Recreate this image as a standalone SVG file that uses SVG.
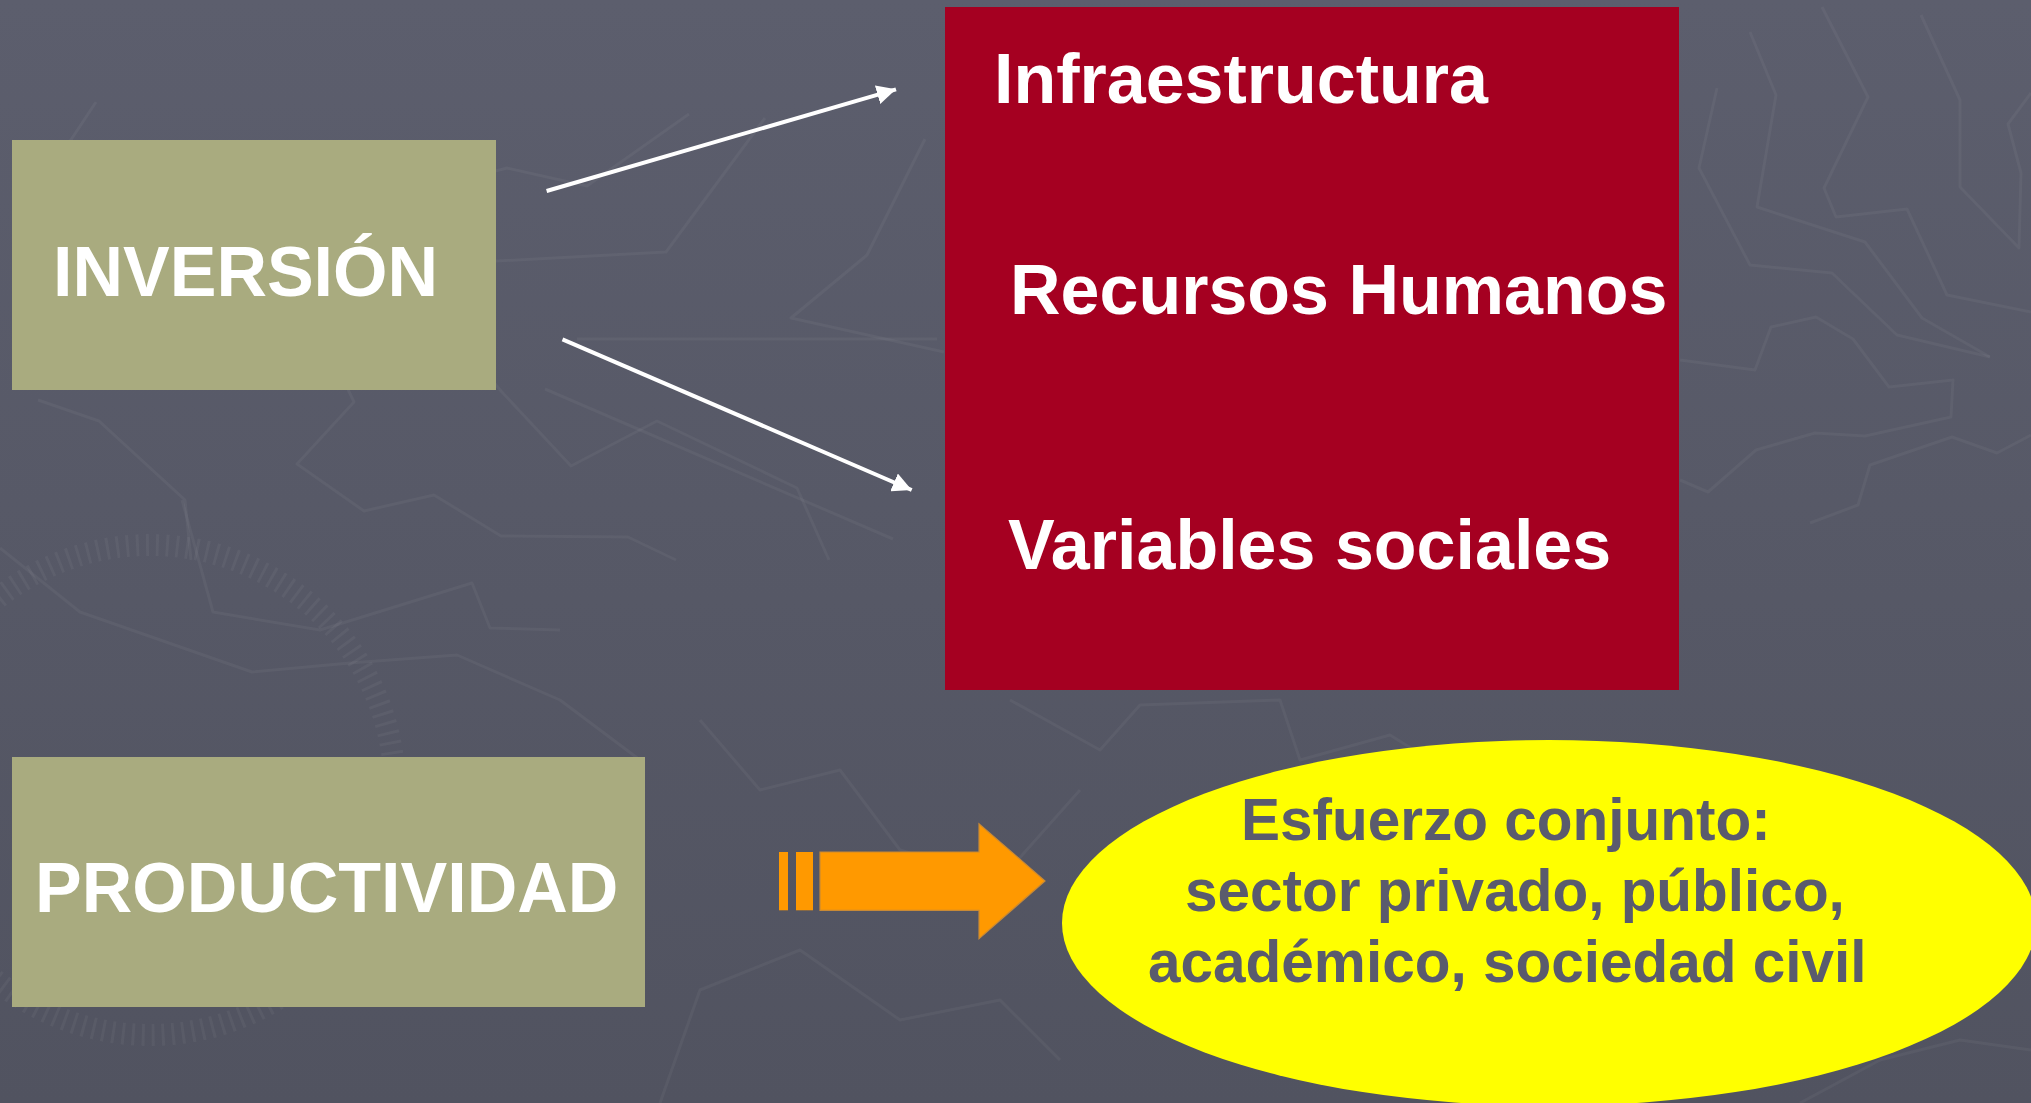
<svg xmlns="http://www.w3.org/2000/svg" width="2031" height="1103" viewBox="0 0 2031 1103">
  <defs>
    <linearGradient id="bg" x1="0" y1="0" x2="0" y2="1">
      <stop offset="0" stop-color="#5c5e6d"/>
      <stop offset="1" stop-color="#515360"/>
    </linearGradient>
    <marker id="head" viewBox="0 0 10 10" refX="10" refY="5" markerWidth="4.8" markerHeight="4.8" markerUnits="strokeWidth" orient="auto">
      <path d="M0,0 L10,5 L0,10 Z" fill="#ffffff"/>
    </marker>
    <style>
      .bgline { fill: none; stroke: #ffffff; stroke-opacity: 0.045; stroke-width: 3; stroke-linejoin: round; }
      .olive { fill: #a9ab7f; }
      .label { font-family: "Liberation Sans", Arial, sans-serif; font-weight: bold; fill: #ffffff; }
      .big { font-size: 70px; }
      .dark { font-family: "Liberation Sans", Arial, sans-serif; font-weight: bold; font-size: 58.5px; fill: #5a5b6d; }
      .conn { stroke: #ffffff; stroke-width: 4; fill: none; marker-end: url(#head); }
      .orange { fill: #ff9900; }
    </style>
  </defs>

  <rect x="0" y="0" width="2031" height="1103" fill="url(#bg)"/>

  <g id="background-lines">
    <polyline class="bgline" points="689,114 587,186 507,168 370,204 230,209 169,320 201,357 252,330 325,341 354,402 297,464 364,511 434,495 501,536 628,537 676,560"/>
    <polyline class="bgline" points="765,118 666,252 459,263 437,314 501,391 571,466 657,421 797,488 829,560"/>
    <polyline class="bgline" points="925,139 867,255 791,318 944,352"/>
    <polyline class="bgline" points="577,339 937,339"/>
    <polyline class="bgline" points="545,389 893,539"/>
    <polyline class="bgline" points="96,102 19,218"/>
    <polyline class="bgline" points="38,400 99,421 185,500 191,560"/>
    <polyline class="bgline" points="0,548 80,612 252,672 350,663 457,655 560,700 640,760"/>
    <polyline class="bgline" points="182,500 213,612 320,630 472,583 490,628 560,630"/>
    <polyline class="bgline" points="1750,32 1776,95 1757,207 1865,242 1922,318 1990,357"/>
    <polyline class="bgline" points="1717,88 1699,168 1750,265 1832,273 1897,335 1990,357"/>
    <polyline class="bgline" points="1822,7 1868,97 1824,188 1836,217 1907,209 1947,295 2031,312"/>
    <polyline class="bgline" points="1921,15 1960,100 1960,187 2019,248 2021,173 2008,124 2031,93"/>
    <polyline class="bgline" points="1680,360 1755,370 1771,327 1816,317 1853,339 1889,387 1953,380 1951,417 1865,436 1815,433 1756,450 1708,492 1680,480"/>
    <polyline class="bgline" points="1810,523 1858,505 1870,465 1952,437 1997,453 2031,435"/>
    <polyline class="bgline" points="1010,700 1100,750 1140,705 1280,700 1300,760 1390,735 1430,760"/>
    <polyline class="bgline" points="700,720 760,790 840,770 900,850 1000,880 1080,790"/>
    <polyline class="bgline" points="660,1103 700,990 800,950 900,1020 1000,1000 1060,1060"/>
    <polyline class="bgline" points="1800,1103 1880,1060 1960,1040 2031,1050"/>
    <circle cx="150" cy="790" r="245" fill="none" stroke="#ffffff" stroke-opacity="0.045" stroke-width="22" stroke-dasharray="3 7"/>
  </g>

  <g id="node-inversion">
    <rect class="olive" x="12" y="140" width="484" height="250"/>
    <text class="label big" x="53" y="296">INVERSIÓN</text>
  </g>

  <g id="node-productividad">
    <rect class="olive" x="12" y="757" width="633" height="250"/>
    <text class="label big" x="35" y="912">PRODUCTIVIDAD</text>
  </g>

  <g id="node-factores">
    <rect x="945" y="7" width="734" height="683" fill="#a50021"/>
    <text class="label big" x="994" y="103">Infraestructura</text>
    <text class="label big" x="1010" y="314">Recursos Humanos</text>
    <text class="label big" x="1008" y="569">Variables sociales</text>
  </g>

  <g id="node-esfuerzo">
    <ellipse cx="1549" cy="923" rx="487" ry="183" fill="#ffff00"/>
    <text class="dark" x="1241" y="840">Esfuerzo conjunto:</text>
    <text class="dark" x="1185" y="911">sector privado, público,</text>
    <text class="dark" x="1148" y="982">académico, sociedad civil</text>
  </g>

  <g id="connectors">
    <line class="conn" x1="546.6" y1="191" x2="896" y2="89.3"/>
    <line class="conn" x1="562.5" y1="339.3" x2="911.7" y2="490"/>
    <g id="block-arrow">
      <rect class="orange" x="779" y="852" width="9" height="58.3"/>
      <rect class="orange" x="796" y="852" width="17" height="58.3"/>
      <path class="orange" d="M820,852 H979 V823.7 L1045,881 L979,938.7 V910.3 H820 Z" stroke="#c98a35" stroke-width="1.2" stroke-linejoin="miter"/>
    </g>
  </g>
</svg>
